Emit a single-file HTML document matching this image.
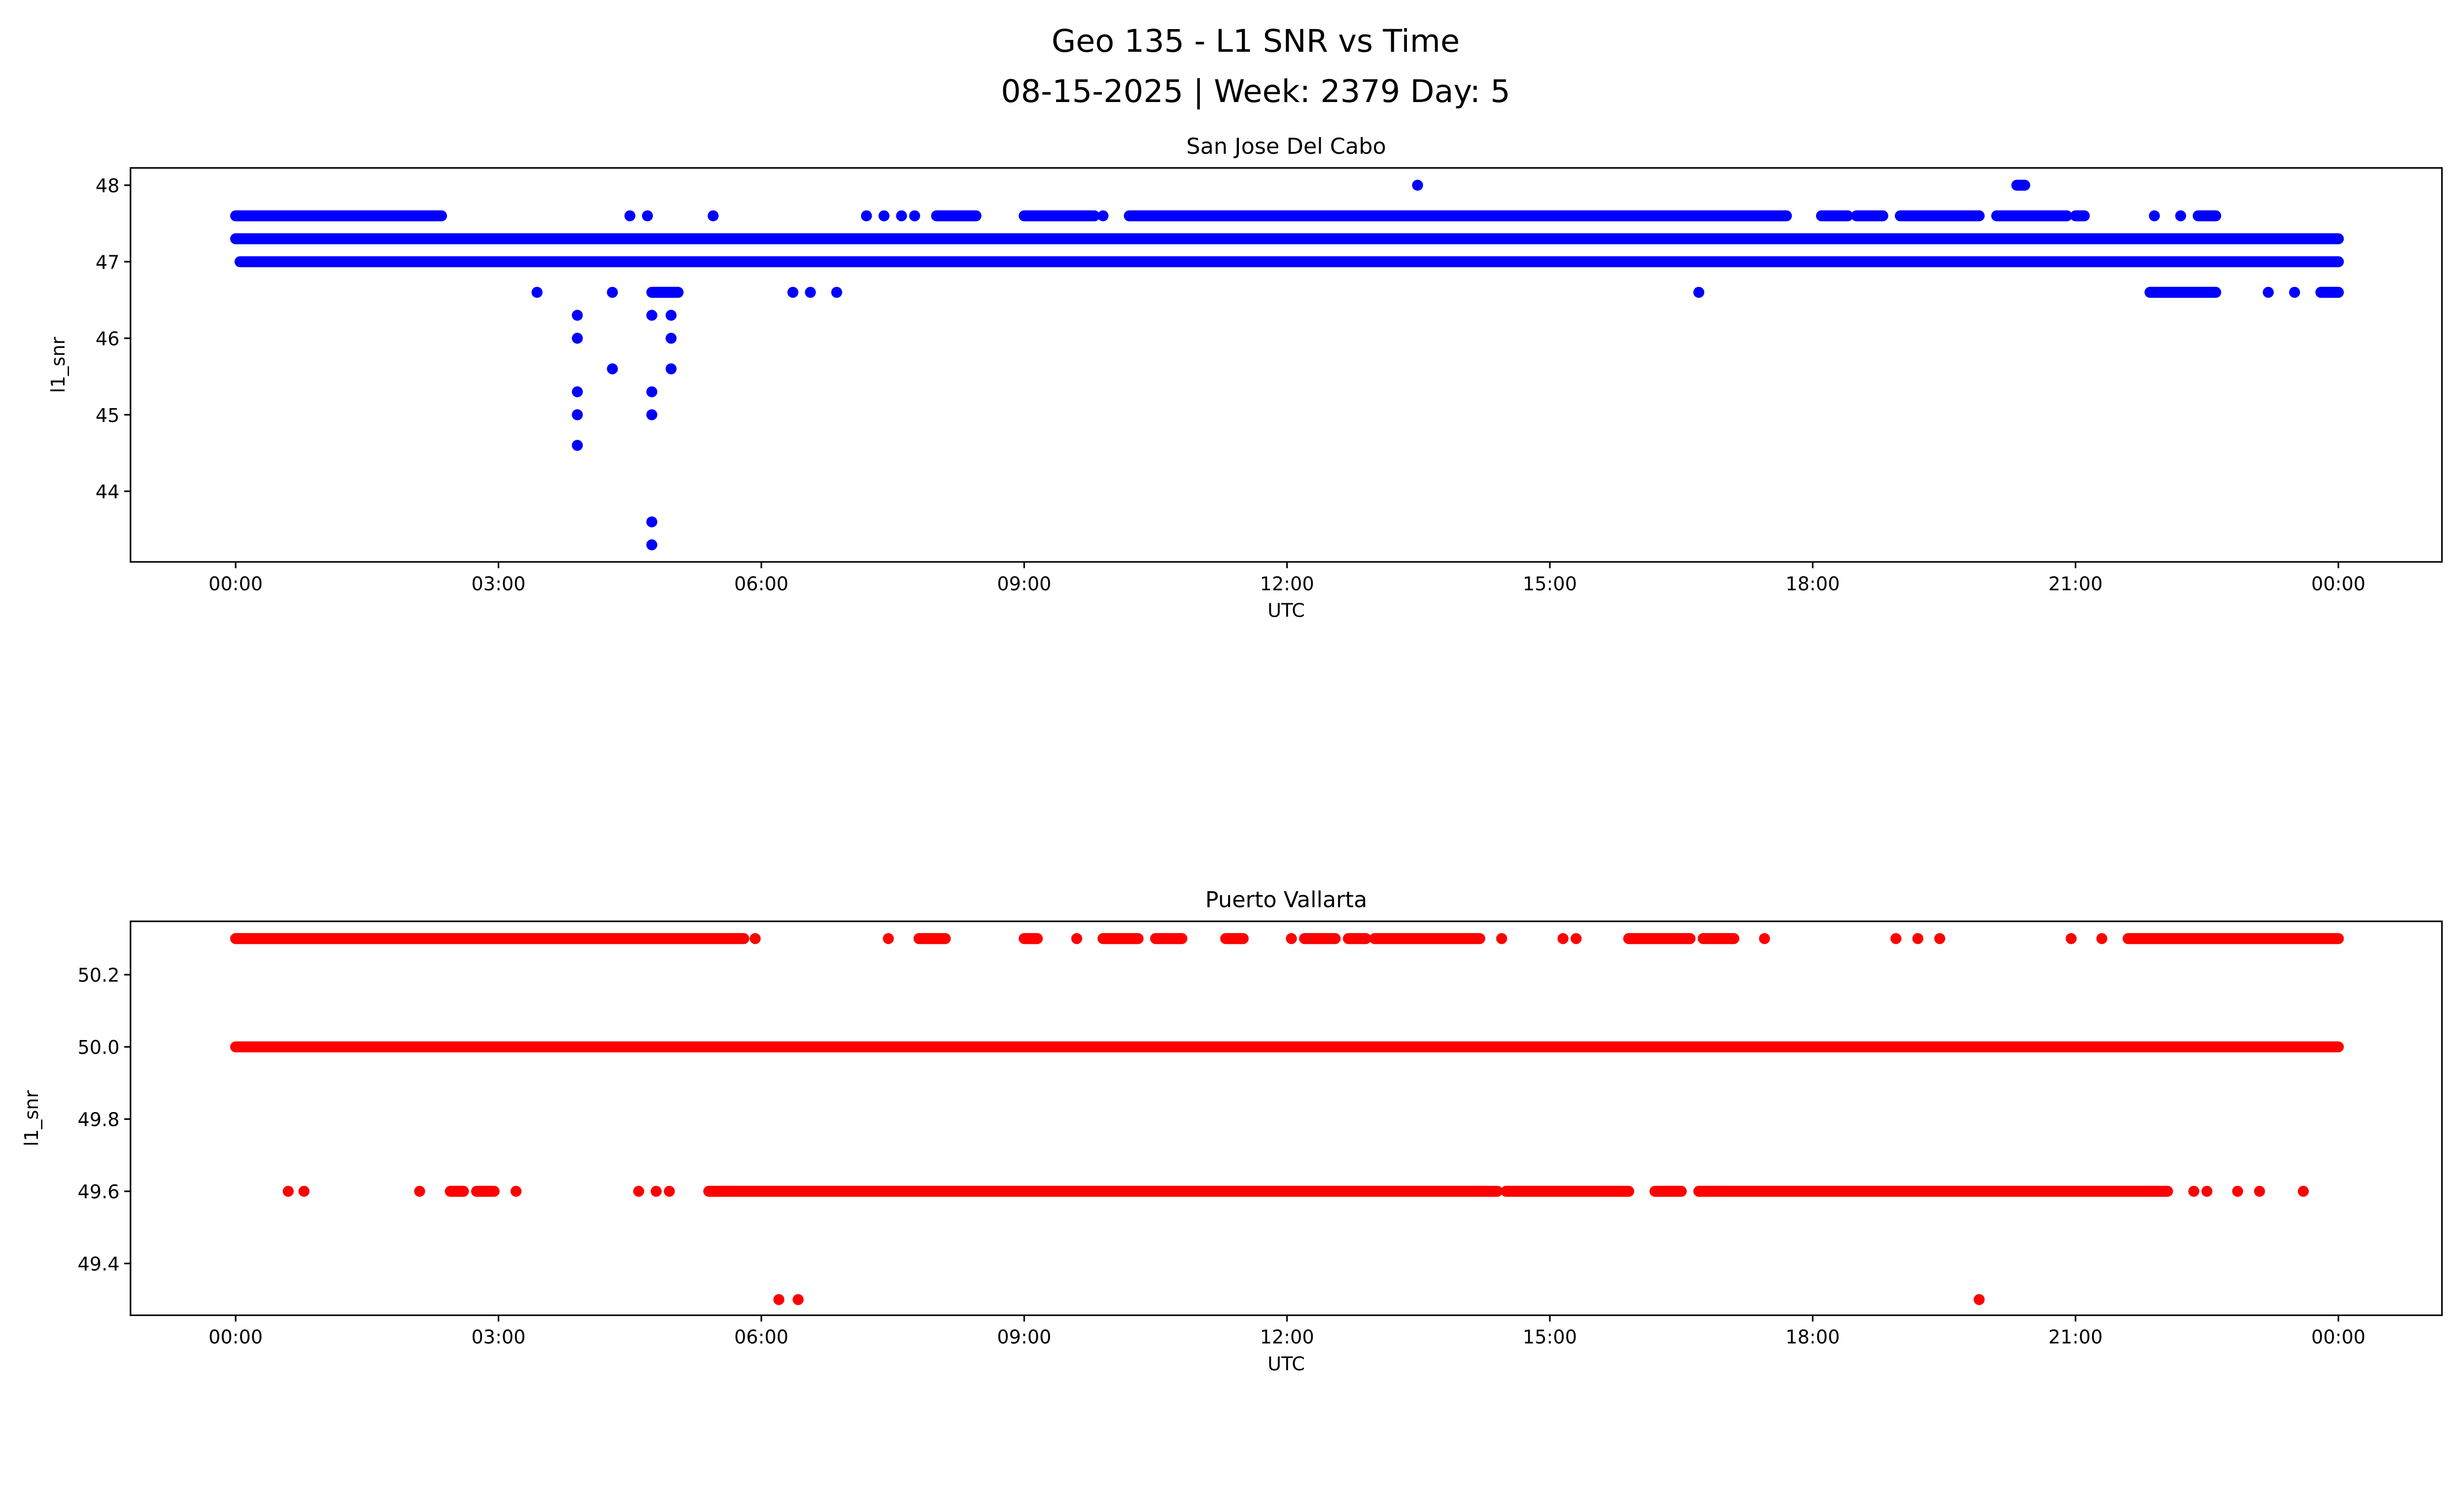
<!DOCTYPE html>
<html><head><meta charset="utf-8"><style>
html,body{margin:0;padding:0;background:#fff;overflow:hidden}
svg{display:block}
text{font-family:"DejaVu Sans","Liberation Sans",sans-serif;fill:#000}
</style></head><body>
<svg id="fig" width="4994" height="2869" viewBox="0 0 1568 901" xmlns="http://www.w3.org/2000/svg">
<rect width="1568" height="901" fill="#fff"/>
<text x="800" y="33" font-size="20" text-anchor="middle">Geo 135 - L1 SNR vs Time</text>
<text x="800" y="65" font-size="20" text-anchor="middle">08-15-2025 | Week: 2379 Day: 5</text>
<g id="top"></g>
<g id="bot"></g>
</svg>
<script>
const xTickLabels = ["00:00","03:00","06:00","09:00","12:00","15:00","18:00","21:00","00:00"];
const xTickHours = [0,3,6,9,12,15,18,21,24];
const topYTicks = [44,45,46,47,48];
const botYTicks = [49.4,49.6,49.8,50.0,50.2];
const topRuns = [
 [0,24,47.3],[0.05,24,47.0],
 [0,2.35,47.6],[8.0,8.45,47.6],[9.0,9.8,47.6],[10.2,17.7,47.6],[18.1,18.4,47.6],[18.5,18.8,47.6],[19.0,19.9,47.6],[20.1,20.9,47.6],[21.0,21.1,47.6],[22.4,22.6,47.6],
 [20.33,20.42,48.0],[21.85,22.6,46.6],[23.8,24,46.6],[4.75,5.05,46.6]
];
const topPtsH = [4.5,4.7,5.45,7.2,7.4,7.6,7.75,9.9,21.9,22.2, 13.49, 3.44,4.3,6.36,6.56,6.86,16.7,23.2,23.5, 3.9,3.9,3.9,3.9,3.9, 4.3, 4.75,4.75,4.75,4.75,4.75,4.97,4.97,4.97];
const topPtsV = [47.6,47.6,47.6,47.6,47.6,47.6,47.6,47.6,47.6,47.6, 48.0, 46.6,46.6,46.6,46.6,46.6,46.6,46.6,46.6, 46.3,46.0,45.3,45.0,44.6, 45.6, 46.3,45.3,45.0,43.6,43.3,46.3,46.0,45.6];
const botRuns = [
 [0,24,50.0],
 [0,5.8,50.3],[7.8,8.1,50.3],[9.0,9.15,50.3],[9.9,10.3,50.3],[10.5,10.8,50.3],[11.3,11.5,50.3],[12.2,12.55,50.3],[12.7,12.9,50.3],[13.0,14.2,50.3],[15.9,16.6,50.3],[16.75,17.1,50.3],[21.6,24,50.3],
 [2.45,2.6,49.6],[2.75,2.95,49.6],[5.4,14.4,49.6],[14.5,15.9,49.6],[16.2,16.5,49.6],[16.7,22.05,49.6]
];
const botPtsH = [5.93,7.45,9.6,12.05,14.45,15.15,15.3,17.45,18.95,19.2,19.45,20.95,21.3, 0.6,0.78,2.1,3.2,4.6,4.8,4.95,22.35,22.5,22.85,23.1,23.6, 6.2,6.42,19.9];
const botPtsV = [50.3,50.3,50.3,50.3,50.3,50.3,50.3,50.3,50.3,50.3,50.3,50.3,50.3, 49.6,49.6,49.6,49.6,49.6,49.6,49.6,49.6,49.6,49.6,49.6,49.6, 49.3,49.3,49.3];

const NS="http://www.w3.org/2000/svg";
function mk(p,tag,attrs){const e=document.createElementNS(NS,tag);for(const k in attrs)e.setAttribute(k,attrs[k]);p.appendChild(e);return e;}
function panel(g,cfg){
 const L=83,R=1556,T=cfg.top,B=cfg.top+251;
 const x=h=>150+h*(1340/24);
 const y=v=>cfg.y0+(cfg.v0-v)*cfg.k;
 cfg.runs.forEach(r=>{const l=mk(g,'line',{x1:x(r[0]),x2:x(r[1]),y1:y(r[2]),y2:y(r[2]),stroke:cfg.color,'stroke-width':7,'stroke-linecap':'round'});
  
  });
 cfg.ph.forEach((h,i)=>{const c=mk(g,'circle',{cx:x(h),cy:y(cfg.pv[i]),r:3.5,fill:cfg.color});
  
  });
 const fr=mk(g,'rect',{x:L,y:T,width:R-L,height:B-T,fill:'none',stroke:'#000','stroke-width':1});
 
 
 xTickHours.forEach((h,i)=>{mk(g,'line',{x1:x(h),x2:x(h),y1:B,y2:B+4,stroke:'#000'});
  const t=mk(g,'text',{x:x(h),y:B+18,'font-size':12,'text-anchor':'middle'});t.textContent=xTickLabels[i];
  
  });
 cfg.yt.forEach(v=>{mk(g,'line',{x1:L-4,x2:L,y1:y(v),y2:y(v),stroke:'#000'});
  const t=mk(g,'text',{x:L-7,y:y(v)+4.5,'font-size':12,'text-anchor':'end'});t.textContent=cfg.fmt(v);
  
  });
 const xt=mk(g,'text',{x:819.5,y:B+35,'font-size':12,'text-anchor':'middle'});xt.textContent='UTC';
 
 
 const yl=mk(g,'text',{x:0,y:0,'font-size':12,'text-anchor':'middle',transform:`translate(${cfg.ylx},${(T+B)/2}) rotate(-90)`});yl.textContent='l1_snr';
 
 
 const st=mk(g,'text',{x:819.5,y:T-9,'font-size':14,'text-anchor':'middle'});st.textContent=cfg.title;
 
 
}
panel(document.getElementById('top'),{top:107,y0:118,v0:48,k:48.75,color:'#0000ff',runs:topRuns,ph:topPtsH,pv:topPtsV,yt:topYTicks,fmt:v=>String(v),ylx:41,title:'San Jose Del Cabo'});
panel(document.getElementById('bot'),{top:587,y0:667,v0:50.0,k:230,color:'#ff0000',runs:botRuns,ph:botPtsH,pv:botPtsV,yt:botYTicks,fmt:v=>v.toFixed(1),ylx:24,title:'Puerto Vallarta'});
</script>
</body></html>
